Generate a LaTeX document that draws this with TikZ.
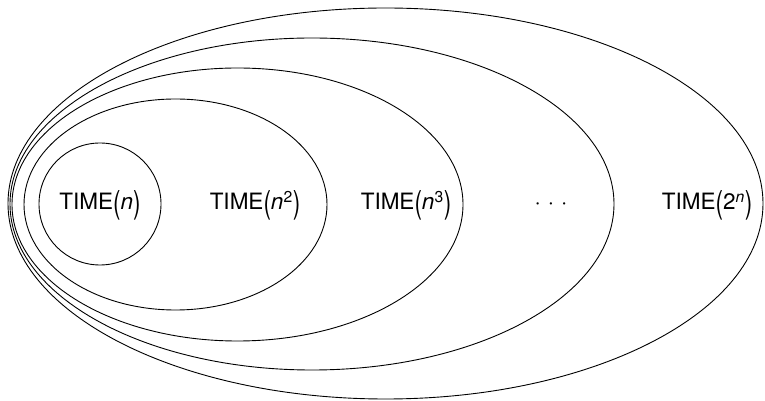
\documentclass[tikz,border=0pt]{standalone}
\usepackage{fontspec}
\setmainfont{TeX Gyre Heros}
\usetikzlibrary{shapes.geometric}
\newcommand{\lp}{\raisebox{-0.17em}{\scalebox{1}[1.4]{(}}}
\newcommand{\rp}{\raisebox{-0.17em}{\scalebox{1}[1.4]{)}}}
\begin{document}
\begin{tikzpicture}[x=1pt,y=1pt,
  set/.style={ellipse, draw, line width=0.9pt, inner sep=0pt},
  lbl/.style={font=\fontsize{22.5}{27}\selectfont, anchor=base, inner sep=0pt}]
\useasboundingbox (0,0) rectangle (765,401);
\node[set, minimum width=122pt, minimum height=122pt] (e1) at (100,197) {};
\node[set, minimum width=303pt, minimum height=211pt] (e2) at (175.5,196.5) {};
\node[set, minimum width=451pt, minimum height=273pt] (e3) at (237.5,196.5) {};
\node[set, minimum width=604pt, minimum height=332pt] (e4) at (312,197) {};
\node[set, minimum width=755pt, minimum height=391pt] (e5) at (385.5,197.5) {};
\node[lbl] (t1) at (100,191) {TIME\lp\textit{n}\rp};
\node[lbl] (t2) at (255,191) {TIME\lp\textit{n}\textsuperscript{2}\rp};
\node[lbl] (t3) at (406,191) {TIME\lp\textit{n}\textsuperscript{3}\rp};
\node[lbl] (t4) at (551,191) {·\hspace{7pt}·\hspace{7pt}·};
\node[lbl] (t5) at (707,191) {TIME\lp2\textsuperscript{\textit{n}}\rp};
\end{tikzpicture}
\end{document}
